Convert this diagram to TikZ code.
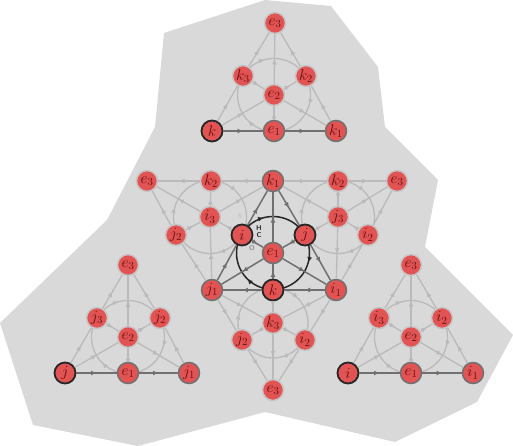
\RequirePackage{fix-cm}
\documentclass[tikz,border=0pt]{standalone}
\usetikzlibrary{decorations.markings,arrows.meta,backgrounds}
\definecolor{bgc}{RGB}{217,217,217}
\definecolor{nodered}{RGB}{226,84,84}
\definecolor{txtred}{RGB}{105,15,15}
\definecolor{lgt}{RGB}{186,186,186}
\definecolor{lgtb}{RGB}{198,198,198}
\definecolor{med}{RGB}{112,112,112}
\definecolor{drk}{RGB}{38,38,38}
\newcommand\myseg[3]{\draw[#1] (#2) -- (#3);}
\tikzset{
  basenode/.style={circle, fill=nodered, minimum size=21pt, inner sep=0pt, line width=1.5pt,
    font=\fontsize{15.5}{15.5}\selectfont, text=txtred},
  lnode/.style={basenode, draw=lgtb},
  mnode/.style={basenode, draw=med},
  dnode/.style={basenode, draw=drk, line width=1.8pt},
  midarrow/.style={postaction={decorate}, decoration={markings,
    mark=at position 0.5 with {\arrow{Latex[length=5.5pt,width=5pt,color=#1]}}}},
  lline/.style={draw=lgt, line width=1.3pt, midarrow=lgt},
  mline/.style={draw=med, line width=1.5pt, midarrow=med},
  circarrows/.style={postaction={decorate}, decoration={markings,
    mark=at position 0.1667 with {\arrow{Latex[length=5.5pt,width=5pt,color=#1]}},
    mark=at position 0.5 with {\arrow{Latex[length=5.5pt,width=5pt,color=#1]}},
    mark=at position 0.8333 with {\arrow{Latex[length=5.5pt,width=5pt,color=#1]}}}},
  lcirc/.style={draw=lgt, line width=1.3pt, circarrows=lgt},
  dcirc/.style={draw=drk, line width=1.5pt, circarrows=drk},
  tag/.style={font=\fontsize{7}{7}\selectfont\sffamily\bfseries, inner sep=0pt}
}
\begin{document}
\begin{tikzpicture}[x=1pt,y=-1pt]
\useasboundingbox (0,0) rectangle (513,446);
% ---------- top cluster
\node[lnode] (t-e3) at (275,23) {$e_3$};
\node[lnode] (t-k3) at (243,76) {$k_3$};
\node[lnode] (t-k2) at (306,76) {$k_2$};
\node[lnode] (t-e2) at (274,95) {$e_2$};
\node[dnode] (t-k) at (212,131) {$k$};
\node[mnode] (t-e1) at (274,131) {$e_1$};
\node[mnode] (t-k1) at (336,131) {$k_1$};
% ---------- left cluster
\node[lnode] (l-e3) at (128,265) {$e_3$};
\node[lnode] (l-j3) at (97,318) {$j_3$};
\node[lnode] (l-j2) at (160,318) {$j_2$};
\node[lnode] (l-e2) at (128,337) {$e_2$};
\node[dnode] (l-j) at (65,373) {$j$};
\node[mnode] (l-e1) at (128,373) {$e_1$};
\node[mnode] (l-j1) at (189,373) {$j_1$};
% ---------- right cluster
\node[lnode] (r-e3) at (411,265) {$e_3$};
\node[lnode] (r-i3) at (379,318) {$i_3$};
\node[lnode] (r-i2) at (442,318) {$i_2$};
\node[lnode] (r-e2) at (411,337) {$e_2$};
\node[dnode] (r-i) at (348,373) {$i$};
\node[mnode] (r-e1) at (411,373) {$e_1$};
\node[mnode] (r-i1) at (473,373) {$i_1$};
% ---------- center
\node[lnode] (c-e3L) at (147,181) {$e_3$};
\node[lnode] (c-k2L) at (211,181) {$k_2$};
\node[mnode] (c-k1) at (273,181) {$k_1$};
\node[lnode] (c-k2R) at (338,181) {$k_2$};
\node[lnode] (c-e3R) at (397,181) {$e_3$};
\node[lnode] (c-i3) at (210,217) {$i_3$};
\node[lnode] (c-j3) at (338,217) {$j_3$};
\node[lnode] (c-j2L) at (176,235) {$j_2$};
\node[dnode] (c-i) at (242,235) {$i$};
\node[dnode] (c-j) at (305,235) {$j$};
\node[lnode] (c-i2R) at (368,235) {$i_2$};
\node[mnode] (c-e1) at (273,253) {$e_1$};
\node[mnode] (c-j1) at (212,290) {$j_1$};
\node[dnode] (c-k) at (273,290) {$k$};
\node[mnode] (c-i1) at (336,290) {$i_1$};
\node[lnode] (c-k3) at (273,323) {$k_3$};
\node[lnode] (c-j2B) at (242,340) {$j_2$};
\node[lnode] (c-i2B) at (305,340) {$i_2$};
\node[lnode] (c-e3B) at (273,390) {$e_3$};
% ---------- tags
\node[tag, text=lgtb] (labS) at (240,216) {S};
\node[tag, text=drk] (labH) at (259,228) {H};
\node[tag, text=drk] (labC) at (259,235) {C};
\node[tag, text=med!80] (labO) at (252,248) {O};
% ---------- top edges
\myseg{mline}{t-k}{t-e1} \myseg{mline}{t-e1}{t-k1}
\myseg{lline}{t-k}{t-k3} \myseg{lline}{t-k3}{t-e3}
\myseg{lline}{t-k1}{t-k2} \myseg{lline}{t-k2}{t-e3}
\myseg{lline}{t-e1}{t-e2} \myseg{lline}{t-e2}{t-e3}
\myseg{lline}{t-k}{t-e2} \myseg{lline}{t-e2}{t-k2}
\myseg{lline}{t-k3}{t-e2} \myseg{lline}{t-e2}{t-k1}
% ---------- left edges
\myseg{mline}{l-j}{l-e1} \myseg{mline}{l-e1}{l-j1}
\myseg{lline}{l-j}{l-j3} \myseg{lline}{l-j3}{l-e3}
\myseg{lline}{l-j1}{l-j2} \myseg{lline}{l-j2}{l-e3}
\myseg{lline}{l-e1}{l-e2} \myseg{lline}{l-e2}{l-e3}
\myseg{lline}{l-j}{l-e2} \myseg{lline}{l-e2}{l-j2}
\myseg{lline}{l-j3}{l-e2} \myseg{lline}{l-e2}{l-j1}
% ---------- right edges
\myseg{mline}{r-i}{r-e1} \myseg{mline}{r-e1}{r-i1}
\myseg{lline}{r-i}{r-i3} \myseg{lline}{r-i3}{r-e3}
\myseg{lline}{r-i1}{r-i2} \myseg{lline}{r-i2}{r-e3}
\myseg{lline}{r-e1}{r-e2} \myseg{lline}{r-e2}{r-e3}
\myseg{lline}{r-i}{r-e2} \myseg{lline}{r-e2}{r-i2}
\myseg{lline}{r-i3}{r-e2} \myseg{lline}{r-e2}{r-i1}
% ---------- center light edges
\myseg{lline}{c-k1}{c-k2L} \myseg{lline}{c-k2L}{c-e3L}
\myseg{lline}{c-j1}{c-j2L} \myseg{lline}{c-j2L}{c-e3L}
\myseg{lline}{c-i}{c-i3} \myseg{lline}{c-i3}{c-e3L}
\myseg{lline}{c-j2L}{c-i3} \myseg{lline}{c-i3}{c-k1}
\myseg{lline}{c-j1}{c-i3} \myseg{lline}{c-i3}{c-k2L}
\myseg{lline}{c-k1}{c-k2R} \myseg{lline}{c-k2R}{c-e3R}
\myseg{lline}{c-i1}{c-i2R} \myseg{lline}{c-i2R}{c-e3R}
\myseg{lline}{c-j}{c-j3} \myseg{lline}{c-j3}{c-e3R}
\myseg{lline}{c-i2R}{c-j3} \myseg{lline}{c-j3}{c-k1}
\myseg{lline}{c-k2R}{c-j3} \myseg{lline}{c-j3}{c-i1}
\myseg{lline}{c-j1}{c-j2B} \myseg{lline}{c-j2B}{c-e3B}
\myseg{lline}{c-i1}{c-i2B} \myseg{lline}{c-i2B}{c-e3B}
\myseg{lline}{c-k}{c-k3} \myseg{lline}{c-k3}{c-e3B}
\myseg{lline}{c-j1}{c-k3} \myseg{lline}{c-k3}{c-i2B}
\myseg{lline}{c-i1}{c-k3} \myseg{lline}{c-k3}{c-j2B}
% ---------- center octonion edges
\myseg{mline}{c-i1}{c-k} \myseg{mline}{c-k}{c-j1}
\myseg{mline}{c-j1}{c-i} \myseg{mline}{c-i}{c-k1}
\myseg{mline}{c-k1}{c-j} \myseg{mline}{c-j}{c-i1}
\myseg{mline}{c-k}{c-e1} \myseg{mline}{c-e1}{c-k1}
\myseg{mline}{c-i}{c-e1} \myseg{mline}{c-e1}{c-i1}
\myseg{mline}{c-j}{c-e1} \myseg{mline}{c-e1}{c-j1}
% ---------- background: region and circles
\begin{scope}[on background layer]
\fill[bgc] (164,33) -- (265,0) -- (331,6) -- (378,67) -- (385,127) -- (438,180) -- (425,247)
  -- (513,335) -- (477,402) -- (395,442) -- (265,412) -- (138,446) -- (33,425) -- (0,323)
  -- (107,220) -- (155,127) -- cycle;
\draw[lcirc] ([shift={(-165:36.5)}]t-e2.center) arc[start angle=-165, delta angle=360, radius=36.5];
\draw[lcirc] ([shift={(-165:36.5)}]l-e2.center) arc[start angle=-165, delta angle=360, radius=36.5];
\draw[lcirc] ([shift={(-165:36.5)}]r-e2.center) arc[start angle=-165, delta angle=360, radius=36.5];
\draw[lcirc] ([shift={(-225:36.5)}]c-i3.center) arc[start angle=-225, delta angle=360, radius=36.5];
\draw[lcirc] ([shift={(-225:36.5)}]c-j3.center) arc[start angle=-225, delta angle=360, radius=36.5];
\draw[lcirc] ([shift={(-225:35)}]c-k3.center) arc[start angle=-225, delta angle=360, radius=35];
\draw[dcirc] ([shift={(-165:36.5)}]c-e1.center) arc[start angle=-165, delta angle=360, radius=36.5];
\end{scope}
\end{tikzpicture}
\end{document}
